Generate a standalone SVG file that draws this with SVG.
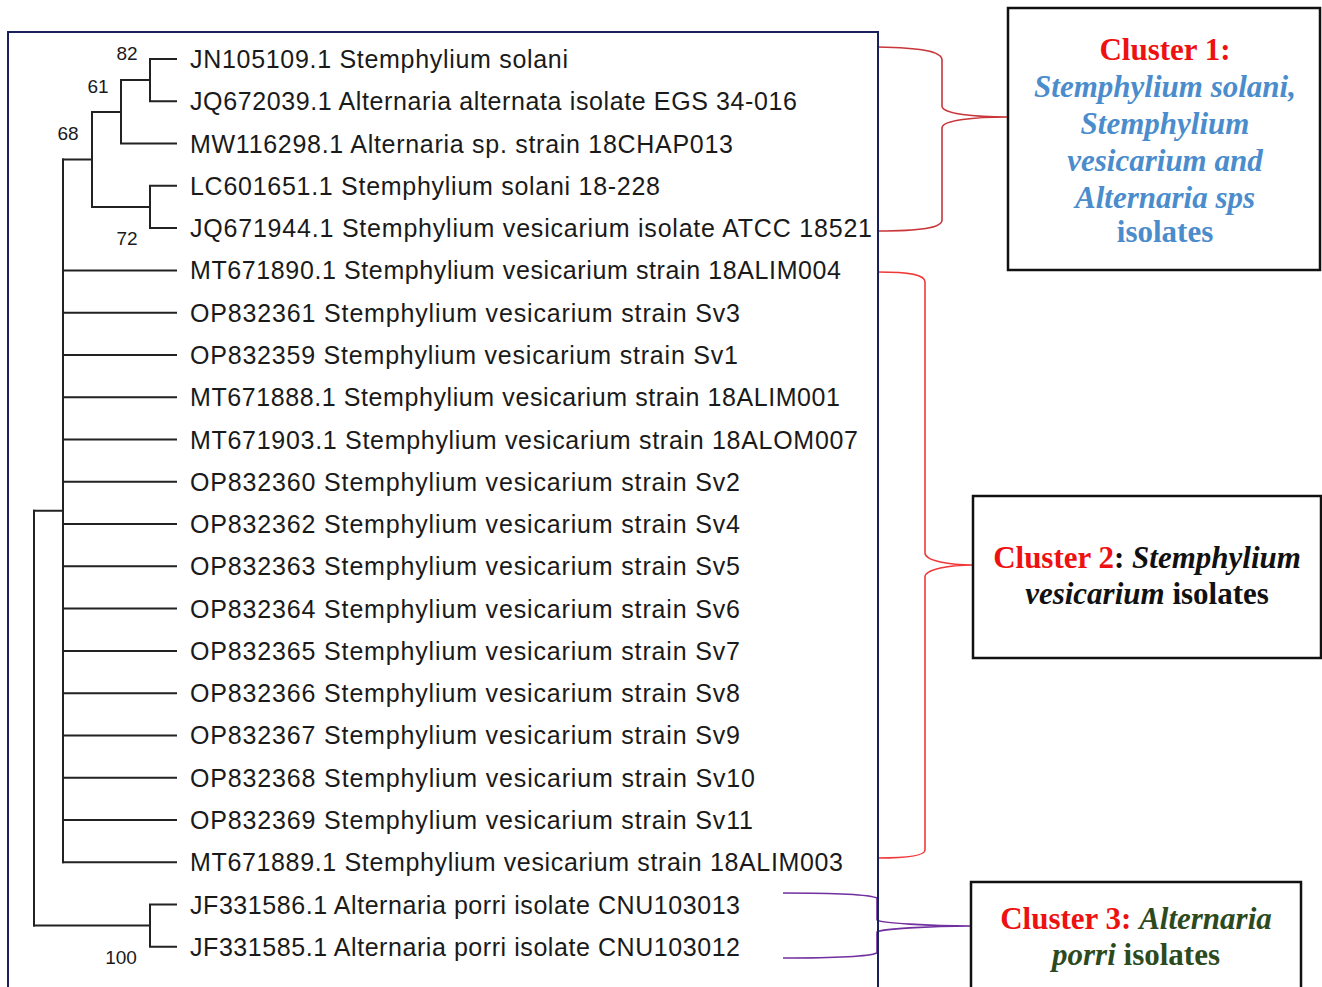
<svg xmlns="http://www.w3.org/2000/svg" width="1322" height="987" viewBox="0 0 1322 987">
<style>
.leaf{font-family:"Liberation Sans",Arial,sans-serif;font-size:25px;fill:#1a1a1a}
.bs{font-family:"Liberation Sans",Arial,sans-serif;font-size:19px;fill:#1a1a1a;text-anchor:middle}
.br{fill:none;stroke:#222;stroke-width:2;stroke-linecap:square}
.ct{font-family:"Liberation Serif","Times New Roman",serif;font-size:31px;font-weight:bold;text-anchor:middle}
.red{fill:#ee1111}
.blue{fill:#4a8ccc}
.blk{fill:#111}
.grn{fill:#2d4a1e}
.it{font-style:italic}
.box{fill:#fff;stroke:#111;stroke-width:2.5}
</style>
<rect width="1322" height="987" fill="#fff"/>
<g id="tree" class="br">
<path d="M150,59 H176 M150,101.3 H176 M150,59 V101.3 M121,80 H150"/>
<path d="M121,143.5 H176 M121,80 V143.5 M92,112 H121"/>
<path d="M150,185.8 H176 M150,228.1 H176 M150,185.8 V228.1 M92,207 H150"/>
<path d="M92,112 V207 M63,159.5 H92"/>
<path d="M63,270.4 H176 M63,312.7 H176 M63,354.9 H176 M63,397.2 H176 M63,439.5 H176 M63,481.8 H176 M63,524 H176 M63,566.3 H176 M63,608.6 H176 M63,650.9 H176 M63,693.2 H176 M63,735.4 H176 M63,777.7 H176 M63,820 H176 M63,862.3 H176"/>
<path d="M63,159.5 V862.3 M34,510.8 H63"/>
<path d="M150,904.5 H176 M150,946.8 H176 M150,904.5 V946.8 M34,925.6 H150"/>
<path d="M34,510.8 V925.6"/>
</g>
<g id="bootstrap">
<text class="bs" x="127" y="60">82</text>
<text class="bs" x="98" y="93">61</text>
<text class="bs" x="68" y="140">68</text>
<text class="bs" x="127" y="245">72</text>
<text class="bs" x="121" y="964">100</text>
</g>
<g id="leaves">
<text class="leaf" x="190" y="68" textLength="378" lengthAdjust="spacing">JN105109.1 Stemphylium solani</text>
<text class="leaf" x="190" y="110.3" textLength="607" lengthAdjust="spacing">JQ672039.1 Alternaria alternata isolate EGS 34-016</text>
<text class="leaf" x="190" y="152.5" textLength="543" lengthAdjust="spacing">MW116298.1 Alternaria sp. strain 18CHAP013</text>
<text class="leaf" x="190" y="194.8" textLength="470" lengthAdjust="spacing">LC601651.1 Stemphylium solani 18-228</text>
<text class="leaf" x="190" y="237.1" textLength="682" lengthAdjust="spacing">JQ671944.1 Stemphylium vesicarium isolate ATCC 18521</text>
<text class="leaf" x="190" y="279.4" textLength="651" lengthAdjust="spacing">MT671890.1 Stemphylium vesicarium strain 18ALIM004</text>
<text class="leaf" x="190" y="321.7" textLength="550" lengthAdjust="spacing">OP832361 Stemphylium vesicarium strain Sv3</text>
<text class="leaf" x="190" y="363.9" textLength="548" lengthAdjust="spacing">OP832359 Stemphylium vesicarium strain Sv1</text>
<text class="leaf" x="190" y="406.2" textLength="650" lengthAdjust="spacing">MT671888.1 Stemphylium vesicarium strain 18ALIM001</text>
<text class="leaf" x="190" y="448.5" textLength="668" lengthAdjust="spacing">MT671903.1 Stemphylium vesicarium strain 18ALOM007</text>
<text class="leaf" x="190" y="490.8" textLength="550" lengthAdjust="spacing">OP832360 Stemphylium vesicarium strain Sv2</text>
<text class="leaf" x="190" y="533" textLength="550" lengthAdjust="spacing">OP832362 Stemphylium vesicarium strain Sv4</text>
<text class="leaf" x="190" y="575.3" textLength="550" lengthAdjust="spacing">OP832363 Stemphylium vesicarium strain Sv5</text>
<text class="leaf" x="190" y="617.6" textLength="550" lengthAdjust="spacing">OP832364 Stemphylium vesicarium strain Sv6</text>
<text class="leaf" x="190" y="659.9" textLength="550" lengthAdjust="spacing">OP832365 Stemphylium vesicarium strain Sv7</text>
<text class="leaf" x="190" y="702.2" textLength="550" lengthAdjust="spacing">OP832366 Stemphylium vesicarium strain Sv8</text>
<text class="leaf" x="190" y="744.4" textLength="550" lengthAdjust="spacing">OP832367 Stemphylium vesicarium strain Sv9</text>
<text class="leaf" x="190" y="786.7" textLength="565" lengthAdjust="spacing">OP832368 Stemphylium vesicarium strain Sv10</text>
<text class="leaf" x="190" y="829" textLength="563" lengthAdjust="spacing">OP832369 Stemphylium vesicarium strain Sv11</text>
<text class="leaf" x="190" y="871.3" textLength="653" lengthAdjust="spacing">MT671889.1 Stemphylium vesicarium strain 18ALIM003</text>
<text class="leaf" x="190" y="913.5" textLength="550" lengthAdjust="spacing">JF331586.1 Alternaria porri isolate CNU103013</text>
<text class="leaf" x="190" y="955.8" textLength="550" lengthAdjust="spacing">JF331585.1 Alternaria porri isolate CNU103012</text>
</g>
<g id="connectors" fill="none" stroke-width="1.6">
<path stroke="#c8363a" d="M878,47 C920,48 942,51 942,60 L942,106 C942,114 975,117 1008,117 C975,117 942,120 942,128 L942,220 C942,228 920,231 878,231"/>
<path stroke="#f03a3a" d="M878,272 C910,272 925,275 925,282 L925,553 C925,561 950,565 973,565 C950,565 925,569 925,577 L925,850 C925,856 905,858 878,858"/>
<path stroke="#7030a0" d="M783,893 C840,893 870,895 877,898 L877,920 C880,923 930,926 971,926 M783,958 C840,958 870,956 877,953 L877,932 C880,929 930,926 971,926"/>
</g>
<g id="frame"><rect x="8" y="32" width="870" height="980" fill="none" stroke="#1a1f5e" stroke-width="2"/></g>
<g id="cluster1">
<rect class="box" x="1008" y="8" width="312" height="262"/>
<text class="ct" x="1165" y="60"><tspan class="red">Cluster 1:</tspan></text>
<text class="ct blue it" x="1165" y="97">Stemphylium solani,</text>
<text class="ct blue it" x="1165" y="134">Stemphylium</text>
<text class="ct blue it" x="1165" y="171">vesicarium and</text>
<text class="ct blue it" x="1165" y="208">Alternaria sps</text>
<text class="ct blue" x="1165" y="242">isolates</text>
</g>
<g id="cluster2">
<rect class="box" x="973" y="496" width="348" height="162"/>
<text class="ct" x="1147" y="568"><tspan class="red">Cluster 2</tspan><tspan class="blk">: </tspan><tspan class="blk it">Stemphylium</tspan></text>
<text class="ct" x="1147" y="604"><tspan class="blk it">vesicarium</tspan><tspan class="blk"> isolates</tspan></text>
</g>
<g id="cluster3">
<rect class="box" x="971" y="882" width="330" height="130"/>
<text class="ct" x="1136" y="929"><tspan class="red">Cluster 3: </tspan><tspan class="grn it">Alternaria</tspan></text>
<text class="ct" x="1136" y="965"><tspan class="grn it">porri</tspan><tspan class="grn"> isolates</tspan></text>
</g>
</svg>
